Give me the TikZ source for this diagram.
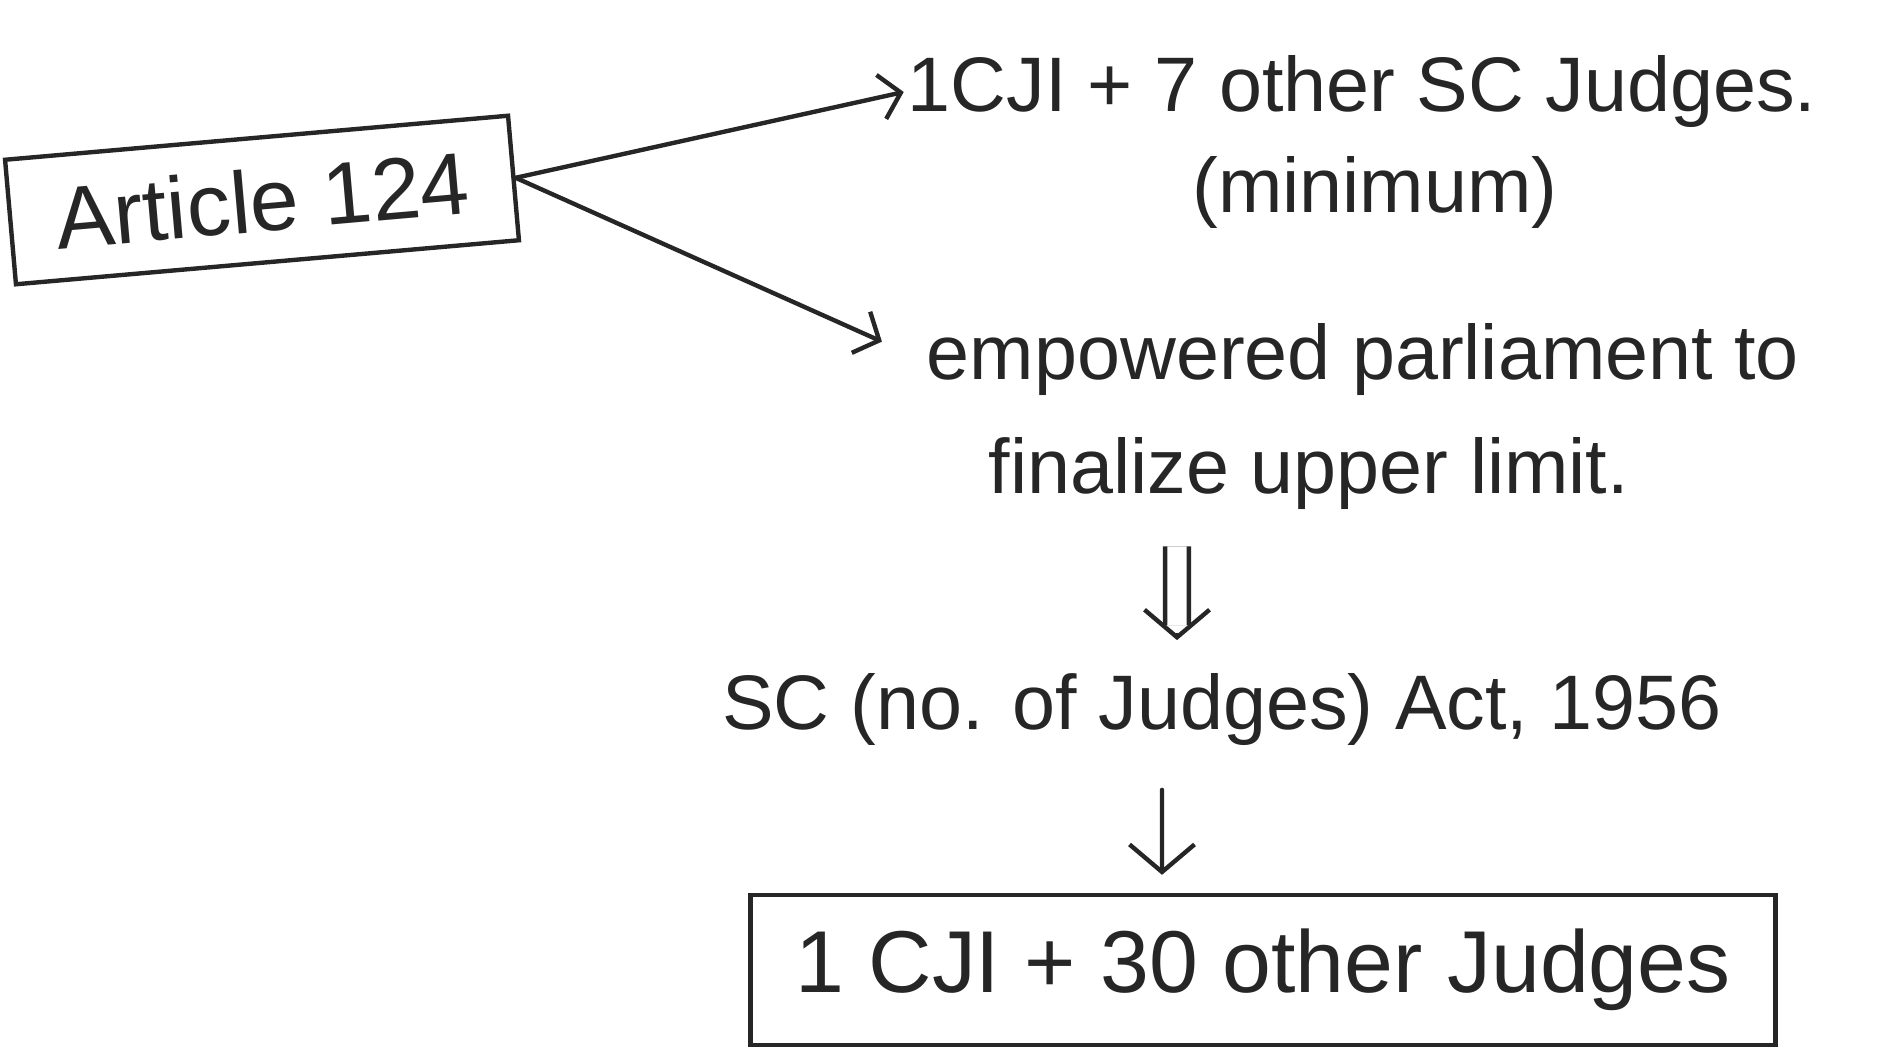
\documentclass[tikz,border=0pt]{standalone}
\usepackage{fontspec}
\setmainfont{Liberation Sans}
\usepackage{tikz}
\usetikzlibrary{positioning, arrows.meta, calc}

\tikzset{
    ink/.style={black!85, line width=2.5pt, line cap=round},
    txt/.style={text=black!85, font=\fontsize{44}{52}\selectfont, inner sep=2pt},
    handbox/.style={ink, draw, text=black!85, font=\fontsize{50}{58}\selectfont},
    arr/.style={ink, -{Straight Barb[length=0.4cm, width=0.9cm]}},
    bigarr/.style={ink, -{Straight Barb[length=0.55cm, width=1.3cm]}},
    dblline/.style={ink, line cap=butt, double, double distance=11pt}
}

\begin{document}
\begin{tikzpicture}[x=0.02cm, y=-0.02cm]
        \useasboundingbox (0,0) rectangle (1883,1048);

        % Source
        \node[handbox, rotate=5, minimum width=10.1cm, minimum height=2.5cm] (art) at (262,200) {Article 124};

        % Outcomes of the article
        \node[txt] (cji) at (1362,92) {1CJI + 7 other SC Judges.};
        \node[txt] (mini) at (1375,192) {(minimum)};
        \node[txt] (emp) at (1363,360) {empowered parliament to};
        \node[txt] (fin) at (1309,474) {finalize upper limit.};

        % Act and result
        \node[txt] (act) at (1222,710) {SC (no. of Judges) Act, 1956};
        \node[handbox, minimum width=20.5cm, minimum height=3cm] (res) at (1263,970) {1 CJI + 30 other Judges};

        % Arrows
        \draw[arr] (art.east) -- (cji.west);
        \draw[arr, shorten >=0.9cm] (art.east) -- (emp.west);

        \coordinate (dtop) at ([xshift=-2.64cm, yshift=-0.65cm]fin.south);
        \coordinate (dend) at ([xshift=-0.9cm, yshift=0.6cm]act.north);
        \draw[dblline, shorten >=0.3cm] (dtop) -- (dend);
        \draw[bigarr] ([yshift=0.1cm]dend) -- (dend);

        \draw[bigarr, shorten <=0.8cm, shorten >=0.36cm] ([xshift=-1.2cm]act.south) -- ([xshift=-2.02cm]res.north);
\end{tikzpicture}
\end{document}
